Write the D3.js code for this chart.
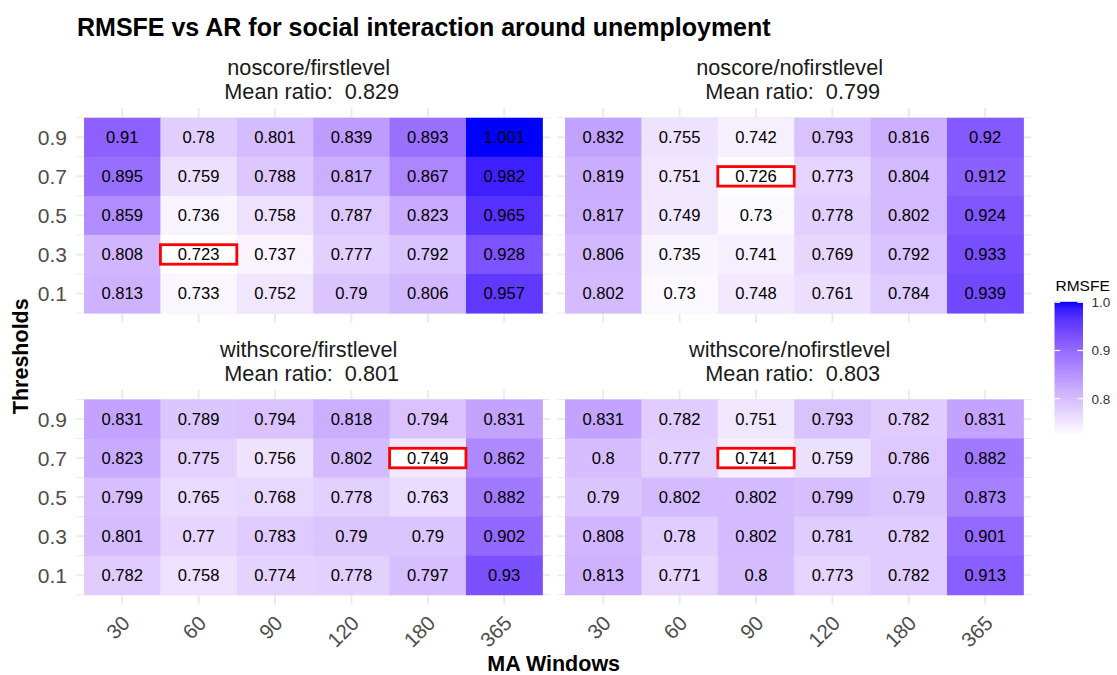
<!DOCTYPE html>
<html>
<head>
<meta charset="utf-8">
<script src="https://cdn.jsdelivr.net/npm/d3@7"></script>
<style>
  html, body { margin: 0; padding: 0; background: #fff; }
  svg { display: block; font-family: "Liberation Sans", Arial, sans-serif; }
  .pre { white-space: pre; }
</style>
</head>
<body>
<svg id="chart" width="1117" height="675"></svg>
<script>
// ---- data ----
const windows = ["30", "60", "90", "120", "180", "365"];
const thresholds = [0.9, 0.7, 0.5, 0.3, 0.1];
const thresholdLabels = ["0.9", "0.7", "0.5", "0.3", "0.1"];
const panelNames = ["noscore/firstlevel", "noscore/nofirstlevel", "withscore/firstlevel", "withscore/nofirstlevel"];
const meanRatios = ["0.829", "0.799", "0.801", "0.803"];
// rows follow thresholds (0.9 .. 0.1), columns follow windows
const noscoreFirstlevel = [
  [0.91, 0.78, 0.801, 0.839, 0.893, 1.001],
  [0.895, 0.759, 0.788, 0.817, 0.867, 0.982],
  [0.859, 0.736, 0.758, 0.787, 0.823, 0.965],
  [0.808, 0.723, 0.737, 0.777, 0.792, 0.928],
  [0.813, 0.733, 0.752, 0.79, 0.806, 0.957]
];
const noscoreNofirstlevel = [
  [0.832, 0.755, 0.742, 0.793, 0.816, 0.92],
  [0.819, 0.751, 0.726, 0.773, 0.804, 0.912],
  [0.817, 0.749, 0.73, 0.778, 0.802, 0.924],
  [0.806, 0.735, 0.741, 0.769, 0.792, 0.933],
  [0.802, 0.73, 0.748, 0.761, 0.784, 0.939]
];
const withscoreFirstlevel = [
  [0.831, 0.789, 0.794, 0.818, 0.794, 0.831],
  [0.823, 0.775, 0.756, 0.802, 0.749, 0.862],
  [0.799, 0.765, 0.768, 0.778, 0.763, 0.882],
  [0.801, 0.77, 0.783, 0.79, 0.79, 0.902],
  [0.782, 0.758, 0.774, 0.778, 0.797, 0.93]
];
const withscoreNofirstlevel = [
  [0.831, 0.782, 0.751, 0.793, 0.782, 0.831],
  [0.8, 0.777, 0.741, 0.759, 0.786, 0.882],
  [0.79, 0.802, 0.802, 0.799, 0.79, 0.873],
  [0.808, 0.78, 0.802, 0.781, 0.782, 0.901],
  [0.813, 0.771, 0.8, 0.773, 0.782, 0.913]
];
const legendTicks = [0.8, 0.9, 1.0];
const panelValues = [noscoreFirstlevel, noscoreNofirstlevel, withscoreFirstlevel, withscoreNofirstlevel];

// ---- layout ----
const svg = d3.select("#chart");
const colX = [[76.4, 550.0], [557.4, 1031.0]];
const rowY = [[108.0, 322.8], [389.7, 604.5]];
const stripOffset = [-33, -9];

const allVals = panelValues.flat(2);
const vmin = d3.min(allVals), vmax = d3.max(allVals);
const color = d3.scaleLinear().domain([vmin, vmax]).range(["#ffffff", "#0000ff"]).interpolate(d3.interpolateLab);

const half = 0.1; // half tile height (threshold resolution 0.2)
const gridColor = "#EBEBEB";

panelValues.forEach((vals, pi) => {
  const [x0, x1] = colX[pi % 2];
  const [y0, y1] = rowY[Math.floor(pi / 2)];
  const x = d3.scaleBand().domain(windows).range([x0, x1]).paddingInner(0).paddingOuter(0.1);
  const y = d3.scaleLinear().domain([-0.05, 1.05]).range([y1, y0]);
  const g = svg.append("g");

  // minor grid
  d3.range(0, 6).map(i => i * 0.2).forEach(v => {
    g.append("line").attr("x1", x0).attr("x2", x1).attr("y1", y(v)).attr("y2", y(v))
      .attr("stroke", gridColor).attr("stroke-width", 1);
  });
  // major grid
  thresholds.forEach(v => {
    g.append("line").attr("x1", x0).attr("x2", x1).attr("y1", y(v)).attr("y2", y(v))
      .attr("stroke", gridColor).attr("stroke-width", 2);
  });
  windows.forEach(w => {
    const cx = x(w) + x.bandwidth() / 2;
    g.append("line").attr("x1", cx).attr("x2", cx).attr("y1", y0).attr("y2", y1)
      .attr("stroke", gridColor).attr("stroke-width", 2);
  });

  const cells = [];
  vals.forEach((row, ri) => row.forEach((v, ci) => cells.push({ t: thresholds[ri], w: windows[ci], v })));

  g.selectAll("rect.tile").data(cells).enter().append("rect").attr("class", "tile")
    .attr("x", d => x(d.w)).attr("width", x.bandwidth() + 0.5)
    .attr("y", d => y(d.t + half)).attr("height", d => y(d.t - half) - y(d.t + half) + 0.5)
    .attr("fill", d => color(d.v));

  // highlight best cell
  const best = cells.reduce((a, b) => (b.v < a.v ? b : a));
  g.append("rect")
    .attr("x", x(best.w)).attr("width", x.bandwidth())
    .attr("y", y(best.t + half / 2)).attr("height", y(best.t - half / 2) - y(best.t + half / 2))
    .attr("fill", "#ffffff").attr("stroke", "#ff0000").attr("stroke-width", 2.8);

  g.selectAll("text.cell").data(cells).enter().append("text").attr("class", "cell")
    .attr("x", d => x(d.w) + x.bandwidth() / 2).attr("y", d => y(d.t))
    .attr("dy", "0.36em").attr("text-anchor", "middle")
    .attr("font-size", "16.6px").attr("fill", "#000")
    .text(d => String(d.v));

  // strip
  const cxp = (x0 + x1) / 2;
  g.append("text").attr("class", "pre").attr("x", cxp - 1.5).attr("y", y0 + stripOffset[0])
    .attr("text-anchor", "middle").attr("font-size", "21.7px").attr("fill", "#1A1A1A")
    .text(panelNames[pi] + " ");
  g.append("text").attr("class", "pre").attr("x", cxp - 1.5).attr("y", y0 + stripOffset[1])
    .attr("text-anchor", "middle").attr("font-size", "21.7px").attr("fill", "#1A1A1A")
    .text("Mean ratio:  " + meanRatios[pi]);

  // y axis labels (left column only)
  if (pi % 2 === 0) {
    thresholds.forEach((v, i) => {
      g.append("text").attr("x", 67).attr("y", y(v)).attr("dy", "0.36em")
        .attr("text-anchor", "end").attr("font-size", "21px").attr("fill", "#4D4D4D")
        .text(thresholdLabels[i]);
    });
  }
  // x axis labels (bottom row only)
  if (pi >= 2) {
    windows.forEach(w => {
      const cx = x(w) + x.bandwidth() / 2;
      g.append("text")
        .attr("transform", `translate(${cx - 2},${y1 + 9}) rotate(-45)`)
        .attr("text-anchor", "end").attr("dy", "0.75em")
        .attr("font-size", "20.5px").attr("fill", "#4D4D4D")
        .text(w);
    });
  }
});

// title
svg.append("text").attr("x", 77).attr("y", 36).attr("font-size", "25px").attr("font-weight", "bold")
  .attr("fill", "#000").text("RMSFE vs AR for social interaction around unemployment");

// axis titles
svg.append("text").attr("x", (colX[0][0] + colX[1][1]) / 2).attr("y", 670.5)
  .attr("text-anchor", "middle").attr("font-size", "21.5px").attr("font-weight", "bold")
  .attr("fill", "#000").text("MA Windows");
svg.append("text").attr("transform", `translate(28,${(rowY[0][0] + rowY[1][1]) / 2}) rotate(-90)`)
  .attr("text-anchor", "middle").attr("font-size", "21.5px").attr("font-weight", "bold")
  .attr("fill", "#000").text("Thresholds");

// legend
const lx = 1054.5, lw = 28.5, ltop = 301.8, lbot = 435.8;
const ly = d3.scaleLinear().domain([vmin, vmax]).range([lbot, ltop]);
const defs = svg.append("defs");
const grad = defs.append("linearGradient").attr("id", "lg").attr("x1", 0).attr("x2", 0).attr("y1", 1).attr("y2", 0);
d3.range(0, 21).forEach(i => {
  const t = i / 20;
  grad.append("stop").attr("offset", t).attr("stop-color", color(vmin + t * (vmax - vmin)));
});
svg.append("text").attr("x", 1055.5).attr("y", 290.7).attr("font-size", "15.5px").attr("fill", "#000").text("RMSFE");
svg.append("rect").attr("x", lx).attr("y", ltop).attr("width", lw).attr("height", lbot - ltop).attr("fill", "url(#lg)");
legendTicks.forEach(v => {
  const yy = ly(v);
  svg.append("line").attr("x1", lx).attr("x2", lx + lw / 5).attr("y1", yy).attr("y2", yy).attr("stroke", "#fff").attr("stroke-width", 1.2);
  svg.append("line").attr("x1", lx + lw - lw / 5).attr("x2", lx + lw).attr("y1", yy).attr("y2", yy).attr("stroke", "#fff").attr("stroke-width", 1.2);
  svg.append("text").attr("x", 1091.5).attr("y", yy).attr("dy", "0.36em").attr("font-size", "13.5px").attr("fill", "#333")
    .text(d3.format(".1f")(v));
});
</script>
</body>
</html>
